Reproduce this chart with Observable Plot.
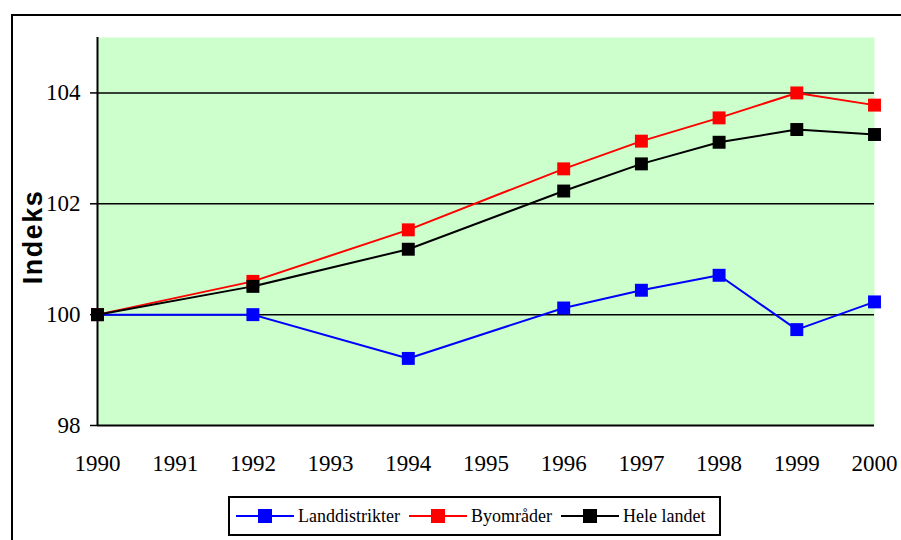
<!DOCTYPE html>
<html><head><meta charset="utf-8">
<script src="https://cdn.jsdelivr.net/npm/d3@7"></script>
<script src="https://cdn.jsdelivr.net/npm/@observablehq/plot@0.6"></script>
<style>
body{margin:0;background:#fff;width:901px;height:540px;overflow:hidden;position:relative;font-family:"Liberation Serif","Times New Roman",serif;}
#frame{position:absolute;left:11px;top:14px;width:900px;height:540px;border:2px solid #000;box-sizing:border-box;}
#chart{position:absolute;left:0;top:0;}
#chart svg text{font-family:"Liberation Serif","Times New Roman",serif;font-size:23px;}
#ylab{position:absolute;left:33px;top:237px;transform:translate(-50%,-50%) rotate(-90deg);font-family:"Liberation Sans",Arial,sans-serif;font-weight:bold;font-size:27px;letter-spacing:1.5px;white-space:nowrap;}
#legend{position:absolute;left:228px;top:496px;width:493px;height:40px;border:2px solid #000;box-sizing:border-box;background:#fff;display:flex;align-items:center;padding-left:6px;font-size:18px;}
.item{display:flex;align-items:center;margin-right:9px;}
.sw{position:relative;width:58px;height:14px;margin-right:4px;}
.sw .ln{position:absolute;left:0;right:0;top:6px;height:2px;}
.sw .sq{position:absolute;left:22px;top:0;width:14px;height:14px;}
</style></head>
<body>
<div id="frame"></div>
<div id="chart"></div>
<div id="ylab">Indeks</div>
<div id="legend"></div>
<script>
const years = [1990, 1992, 1994, 1996, 1997, 1998, 1999, 2000];
const landdistrikter = [100, 100, 99.21, 100.12, 100.44, 100.71, 99.73, 100.23];
const byomrader = [100, 100.6, 101.53, 102.63, 103.13, 103.55, 104.0, 103.78];
const heleLandet = [100, 100.51, 101.18, 102.23, 102.72, 103.11, 103.34, 103.25];
const seriesNames = ["Landdistrikter", "Byområder", "Hele landet"];
const seriesColors = ["#0000ff", "#ff0000", "#000000"];
const xTicks = [1990, 1991, 1992, 1993, 1994, 1995, 1996, 1997, 1998, 1999, 2000];
const yTicks = [98, 100, 102, 104];

const allSeries = [landdistrikter, byomrader, heleLandet];
const data = [];
allSeries.forEach((vals, i) => vals.forEach((v, j) => data.push({series: seriesNames[i], year: years[j], value: v})));

const chart = Plot.plot({
  width: 901, height: 480,
  marginLeft: 97, marginRight: 27, marginTop: 37, marginBottom: 55,
  style: {background: "transparent", color: "#000"},
  x: {domain: [1990, 2000], label: null},
  y: {domain: [98, 105], label: null},
  color: {domain: seriesNames, range: seriesColors},
  marks: [
    Plot.frame({fill: "#ccffcc", stroke: null}),
    Plot.gridY([100, 102, 104], {stroke: "#000", strokeOpacity: 1, strokeWidth: 1.5}),
    Plot.ruleY([98], {stroke: "#000", strokeWidth: 2}),
    Plot.ruleX([1990], {stroke: "#000", strokeWidth: 2}),
    Plot.axisY({ticks: yTicks, tickSize: 7, tickPadding: 10, strokeWidth: 1.5, tickFormat: d => String(d), label: null}),
    Plot.axisX({ticks: xTicks, tickSize: 0, tickPadding: 29, tickFormat: d => String(d), label: null}),
    Plot.line(data, {x: "year", y: "value", stroke: "series", z: "series", strokeWidth: 2}),
    Plot.dot(data, {x: "year", y: "value", fill: "series", symbol: "square", r: 7.3, stroke: null})
  ]
});
document.getElementById("chart").appendChild(chart);

const leg = document.getElementById("legend");
seriesNames.forEach((n, i) => {
  const it = document.createElement("div");
  it.className = "item";
  it.innerHTML = `<div class="sw"><div class="ln" style="background:${seriesColors[i]}"></div><div class="sq" style="background:${seriesColors[i]}"></div></div><span>${n}</span>`;
  leg.appendChild(it);
});
</script>
</body></html>
